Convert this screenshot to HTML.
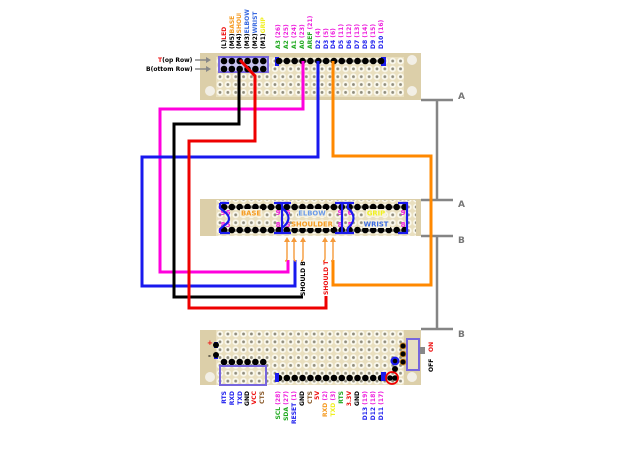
<!DOCTYPE html>
<html><head><meta charset="utf-8"><style>
html,body{margin:0;padding:0;background:#fff;width:620px;height:465px;overflow:hidden}
svg{display:block}
text{font-family:"DejaVu Sans","Liberation Sans",sans-serif;font-weight:bold;font-size:6px}
.w{fill:none;stroke-width:3;stroke-linejoin:miter}
.d{stroke:#000;stroke-width:6.6;stroke-linecap:round;stroke-dasharray:0 7.85;fill:none}
.g{fill:none;stroke:#858585;stroke-width:2.5}
.m{fill:#ee22dd;font-size:7px}
.b{fill:none;stroke:#1a1aee;stroke-width:2.2}
.p{fill:none;stroke:#7766dd;stroke-width:2}
.o{stroke:#f59a3a;stroke-width:1.4;fill:none}
</style></head><body>
<svg width="620" height="465" viewBox="0 0 620 465" xmlns="http://www.w3.org/2000/svg">
<defs>
<pattern id="h" patternUnits="userSpaceOnUse" x="216.1" y="57.1" width="7.85" height="7.85">
<rect width="7.85" height="7.85" fill="#e9dfbf"/>
<circle cx="3.9" cy="3.9" r="3.3" fill="#fbf9ee"/>
<circle cx="3.9" cy="3.9" r="1.4" fill="#8f8c7c"/>
</pattern>
<pattern id="h2" patternUnits="userSpaceOnUse" x="216.1" y="203.1" width="7.85" height="7.85">
<rect width="7.85" height="7.85" fill="#e9dfbf"/>
<circle cx="3.9" cy="3.9" r="3.3" fill="#fbf9ee"/>
<circle cx="3.9" cy="3.9" r="1.4" fill="#8f8c7c"/>
</pattern>
<pattern id="h3" patternUnits="userSpaceOnUse" x="216.1" y="330.1" width="7.85" height="7.85">
<rect width="7.85" height="7.85" fill="#e9dfbf"/>
<circle cx="3.9" cy="3.9" r="3.3" fill="#fbf9ee"/>
<circle cx="3.9" cy="3.9" r="1.4" fill="#8f8c7c"/>
</pattern>
</defs>

<!-- Boards -->
<rect x="200" y="53" width="221" height="47" fill="#dccfa9"/>
<rect x="216" y="57" width="188" height="40" fill="url(#h)"/>
<circle cx="412" cy="60" r="5" fill="#f2efe6"/>
<circle cx="210" cy="91" r="5" fill="#f2efe6"/>
<circle cx="412" cy="91" r="5" fill="#f2efe6"/>

<rect x="200" y="199" width="221" height="37" fill="#dccfa9"/>
<rect x="216" y="200" width="200" height="36" fill="url(#h2)"/>

<rect x="200" y="330" width="221" height="55" fill="#dccfa9"/>
<rect x="216" y="330" width="188" height="55" fill="url(#h3)"/>
<circle cx="210" cy="377" r="5" fill="#f2efe6"/>
<circle cx="412" cy="377" r="5" fill="#f2efe6"/>

<!-- Grey brackets -->
<path class="g" d="M421 100H453M437 100V200M421 200H453M421 236H453M437 236V329M421 329H453"/>
<text x="458" y="99" style="font-size:9px" fill="#777">A</text>
<text x="458" y="207" style="font-size:9px" fill="#777">A</text>
<text x="458" y="243" style="font-size:9px" fill="#777">B</text>
<text x="458" y="337" style="font-size:9px" fill="#777">B</text>

<!-- Row labels -->
<text x="158" y="62" fill="#000"><tspan fill="#e11">T</tspan>(op Row)</text>
<text x="146" y="71" fill="#000">B(ottom Row)</text>
<path d="M195 60H208M195 69H208" stroke="#888" stroke-width="1.6"/>
<path d="M206 57l5 3l-5 3zM206 66l5 3l-5 3z" fill="#888"/>

<!-- Board 1 pins -->
<rect x="219" y="57" width="49" height="15" fill="#c7c2ee" stroke="#7766dd" stroke-width="2"/>
<rect x="275" y="57" width="4" height="9" fill="#1a1aee"/>
<rect x="381" y="57" width="5" height="9" fill="#1a1aee"/>
<path class="d" d="M224 61H266M224 69H266M279 61H383"/>

<!-- Wires -->
<path class="w" stroke="#ff00dd" d="M303 61V109H160V272H288V260"/>
<path class="w" stroke="#1818ee" d="M318 61V157H142V286H295V260"/>
<path class="w" stroke="#000" d="M239 69V124H174V297H303"/>
<path class="w" stroke="#ee0000" d="M240 60L255 76V141H189V308H326V296"/>
<path class="w" stroke="#ff8800" d="M333 61V156H431V285H333V260"/>

<!-- Board 1 top labels -->
<g>
<text transform="translate(226,49) rotate(-90)" fill="#000">(L)<tspan fill="#e11">LED</tspan></text>
<text transform="translate(234,49) rotate(-90)" fill="#000">(M5)<tspan fill="#f59a20">BASE</tspan></text>
<text transform="translate(241,49) rotate(-90)" fill="#000">(M4)<tspan fill="#f59a20">SHOULDER</tspan></text>
<text transform="translate(249,49) rotate(-90)" fill="#000">(M3)<tspan fill="#3a6ae0">ELBOW</tspan></text>
<text transform="translate(257,49) rotate(-90)" fill="#000">(M2)<tspan fill="#3a6ae0">WRIST</tspan></text>
<text transform="translate(265,49) rotate(-90)" fill="#000">(M1)<tspan fill="#f0f020">GRIP</tspan></text>
<rect x="234" y="0" width="10" height="13" fill="#fff"/>
<text transform="translate(280,49) rotate(-90)" fill="#22aa22">A3 <tspan fill="#ee22dd">(26)</tspan></text>
<text transform="translate(288,49) rotate(-90)" fill="#22aa22">A2 <tspan fill="#ee22dd">(25)</tspan></text>
<text transform="translate(296,49) rotate(-90)" fill="#22aa22">A1 <tspan fill="#ee22dd">(24)</tspan></text>
<text transform="translate(304,49) rotate(-90)" fill="#22aa22">A0 <tspan fill="#ee22dd">(23)</tspan></text>
<text transform="translate(312,49) rotate(-90)" fill="#22aa22">AREF <tspan fill="#ee22dd">(21)</tspan></text>
<text transform="translate(320,49) rotate(-90)" fill="#2222ee">D2 <tspan fill="#ee22dd">(4)</tspan></text>
<text transform="translate(328,49) rotate(-90)" fill="#2222ee">D3 <tspan fill="#ee22dd">(5)</tspan></text>
<text transform="translate(335,49) rotate(-90)" fill="#2222ee">D4 <tspan fill="#ee22dd">(6)</tspan></text>
<text transform="translate(343,49) rotate(-90)" fill="#2222ee">D5 <tspan fill="#ee22dd">(11)</tspan></text>
<text transform="translate(351,49) rotate(-90)" fill="#2222ee">D6 <tspan fill="#ee22dd">(12)</tspan></text>
<text transform="translate(359,49) rotate(-90)" fill="#2222ee">D7 <tspan fill="#ee22dd">(13)</tspan></text>
<text transform="translate(367,49) rotate(-90)" fill="#2222ee">D8 <tspan fill="#ee22dd">(14)</tspan></text>
<text transform="translate(375,49) rotate(-90)" fill="#2222ee">D9 <tspan fill="#ee22dd">(15)</tspan></text>
<text transform="translate(383,49) rotate(-90)" fill="#2222ee">D10 <tspan fill="#ee22dd">(16)</tspan></text>
</g>

<!-- Board 2 -->
<path class="d" d="M224 207H405M224 230H405"/>
<rect x="240" y="209" width="22" height="8" fill="#f6f1de"/>
<rect x="298" y="209" width="28" height="8" fill="#f6f1de"/>
<rect x="292" y="220" width="41" height="8" fill="#f6f1de"/>
<rect x="366" y="209" width="20" height="8" fill="#f6f1de"/>
<rect x="363" y="220" width="27" height="8" fill="#f6f1de"/>
<g text-anchor="middle" style="font-size:6.8px">
<text x="251" y="215.5" fill="#f59a20" style="font-size:6.8px">BASE</text>
<text x="312" y="215.5" fill="#6a9ae8" style="font-size:6.8px">ELBOW</text>
<text x="312" y="226.5" fill="#f59a20" style="font-size:6.8px">SHOULDER</text>
<text x="376" y="215.5" fill="#f0f020" style="font-size:6.8px">GRIP</text>
<text x="376" y="226.5" fill="#3a6ae0" style="font-size:6.8px">WRIST</text>
</g>
<g text-anchor="middle">
<text class="m" x="223" y="215">9</text><text class="m" x="228" y="215">6</text>
<text class="m" x="223" y="227">8</text><text class="m" x="228" y="227">5</text>
<text class="m" x="278" y="215">9</text><text class="m" x="288" y="215">6</text>
<text class="m" x="278" y="227">8</text><text class="m" x="288" y="227">5</text>
<text class="m" x="340" y="215">9</text><text class="m" x="350" y="215">6</text>
<text class="m" x="340" y="227">8</text><text class="m" x="350" y="227">5</text>
<text class="m" x="403" y="215">9</text>
<text class="m" x="403" y="227">8</text>
</g>
<path class="b" d="M220 203H229M220 233H230M220 203V208L226 213Q232 219 226 224L220 229V233"/>
<path class="b" d="M274 203H291M274 233H291M282 203V233M282 208Q295 218 282 228"/>
<path class="b" d="M335 203H354M335 233H354M342 203V233M348 203V208Q359 218 348 228V233"/>
<path class="b" d="M398 203H407V233H398"/>

<!-- Orange arrows -->
<path class="o" d="M287 240V258Q287 261 285 261M294 240V258Q294 261 296 261M303 240V258Q303 261 301 261M325 240V258Q325 261 323 261M333 240V258Q333 261 331 261"/>
<path fill="#f59a3a" d="M284 242l3-5l3 5zM291 242l3-5l3 5zM300 242l3-5l3 5zM322 242l3-5l3 5zM330 242l3-5l3 5z"/>
<text transform="translate(305,296) rotate(-90)" fill="#000">SHOULD B</text>
<text transform="translate(328,295) rotate(-90)" fill="#e11">SHOULD T</text>

<!-- Board 3 -->
<rect x="214" y="342" width="4" height="6" fill="#1a1aee"/>
<rect x="214" y="353" width="4" height="6" fill="#1a1aee"/>
<circle cx="216" cy="345" r="3" fill="#000"/>
<circle cx="216" cy="355" r="3" fill="#000"/>
<text x="207" y="345" fill="#e11" style="font-size:7px">+</text>
<text x="208" y="358" fill="#000" style="font-size:7px">-</text>
<path class="d" d="M224 362H266M279 378H383"/>
<rect x="220" y="366" width="46" height="19" class="p"/>
<rect x="275" y="373" width="4" height="9" fill="#1a1aee"/>
<rect x="381" y="372" width="5" height="9" fill="#1a1aee"/>
<circle cx="395" cy="361" r="4.5" fill="#1a1aee"/><circle cx="395" cy="361" r="2.3" fill="#000"/>
<circle cx="395" cy="369" r="3" fill="#000"/>
<circle cx="390" cy="378" r="2.8" fill="#000"/><circle cx="395" cy="378" r="2.8" fill="#000"/>
<circle cx="392" cy="378" r="6" fill="none" stroke="#e00" stroke-width="1.8"/>
<circle cx="403" cy="346" r="3" fill="#000" stroke="#c08020"/>
<circle cx="403" cy="354" r="3" fill="#000" stroke="#c08020"/>
<circle cx="403" cy="362" r="3" fill="#000" stroke="#c08020"/>
<rect x="407" y="339" width="12" height="31" class="p" style="fill:#e8dfc2"/>
<rect x="420" y="347" width="5" height="7" fill="#888"/>
<text transform="translate(433,352) rotate(-90)" fill="#e11">ON</text>
<text transform="translate(433,372) rotate(-90)" fill="#000">OFF</text>

<!-- Board 3 bottom labels -->
<g text-anchor="end">
<text transform="translate(226,391) rotate(-90)" fill="#2222ee">RTS</text>
<text transform="translate(234,391) rotate(-90)" fill="#2222ee">RXD</text>
<text transform="translate(242,391) rotate(-90)" fill="#2222ee">TXD</text>
<text transform="translate(249,391) rotate(-90)" fill="#000">GND</text>
<text transform="translate(256,391) rotate(-90)" fill="#e11">VCC</text>
<text transform="translate(264,391) rotate(-90)" fill="#8a5a2a">CTS</text>
<text transform="translate(280,391) rotate(-90)" fill="#22aa22">SCL <tspan fill="#ee22dd">(28)</tspan></text>
<text transform="translate(288,391) rotate(-90)" fill="#22aa22">SDA <tspan fill="#ee22dd">(27)</tspan></text>
<text transform="translate(296,391) rotate(-90)" fill="#2222ee">RESET <tspan fill="#ee22dd">(1)</tspan></text>
<text transform="translate(304,391) rotate(-90)" fill="#000">GND</text>
<text transform="translate(312,391) rotate(-90)" fill="#8a5a2a">CTS</text>
<text transform="translate(319,391) rotate(-90)" fill="#e11">5V</text>
<text transform="translate(327,391) rotate(-90)" fill="#f59a20">RXD <tspan fill="#ee22dd">(2)</tspan></text>
<text transform="translate(335,391) rotate(-90)" fill="#f0f020">TXD <tspan fill="#ee22dd">(3)</tspan></text>
<text transform="translate(343,391) rotate(-90)" fill="#22aa22">RTS</text>
<text transform="translate(351,391) rotate(-90)" fill="#e11">3.3V</text>
<text transform="translate(359,391) rotate(-90)" fill="#000">GND</text>
<text transform="translate(367,391) rotate(-90)" fill="#2222ee">D13 <tspan fill="#ee22dd">(19)</tspan></text>
<text transform="translate(375,391) rotate(-90)" fill="#2222ee">D12 <tspan fill="#ee22dd">(18)</tspan></text>
<text transform="translate(383,391) rotate(-90)" fill="#2222ee">D11 <tspan fill="#ee22dd">(17)</tspan></text>
</g>
</svg>
</body></html>
